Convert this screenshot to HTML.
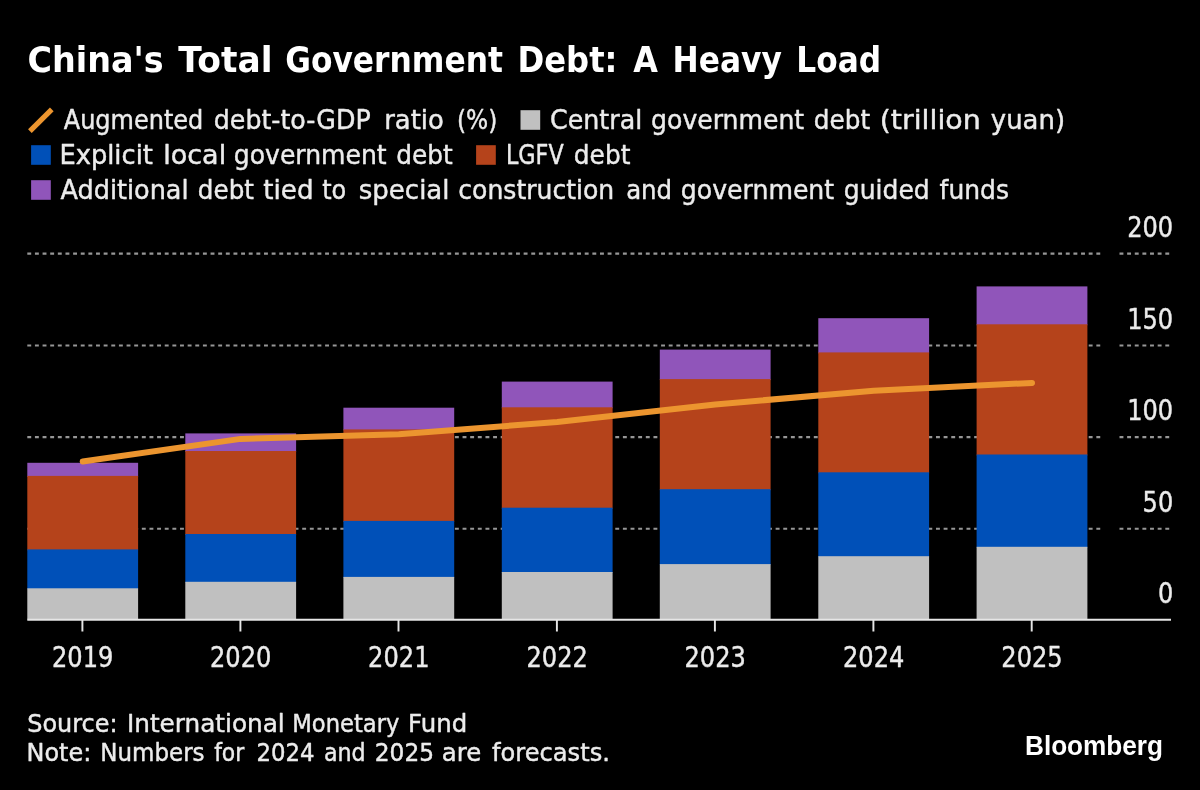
<!DOCTYPE html>
<html lang="en"><head><meta charset="utf-8"><title>China's Total Government Debt: A Heavy Load</title>
<style>
html,body{margin:0;padding:0;background:#000000;}
body{width:1200px;height:790px;overflow:hidden;}
svg{display:block}
text{font-family:'DejaVu Sans','Liberation Sans',sans-serif;fill:#ececec;stroke:#ececec;stroke-width:0.45px;stroke-linejoin:round}
.t{font-weight:bold;font-size:35px;fill:#ffffff;stroke:none}
.l{font-size:27.1px}
.a{font-size:28.2px}
.f{font-size:25px}
.logo{font-family:'Liberation Sans',sans-serif;font-weight:bold;font-size:27px;fill:#ffffff;stroke:none}
</style></head><body>
<svg width="1200" height="790" viewBox="0 0 1200 790">
<rect width="1200" height="790" fill="#000000"/>

<text y="71.8" class="t"><tspan x="27.43" textLength="136.16" lengthAdjust="spacingAndGlyphs">China's</tspan> <tspan x="178.30" textLength="94.16" lengthAdjust="spacingAndGlyphs">Total</tspan> <tspan x="285.23" textLength="217.66" lengthAdjust="spacingAndGlyphs">Government</tspan> <tspan x="517.48" textLength="100.04" lengthAdjust="spacingAndGlyphs">Debt:</tspan> <tspan x="633.30" textLength="24.67" lengthAdjust="spacingAndGlyphs">A</tspan> <tspan x="672.56" textLength="109.30" lengthAdjust="spacingAndGlyphs">Heavy</tspan> <tspan x="796.31" textLength="84.79" lengthAdjust="spacingAndGlyphs">Load</tspan></text>
<line x1="29.9" y1="131.1" x2="51.8" y2="109.3" stroke="#ec952f" stroke-width="5.2"/>
<text y="128.8" class="l"><tspan x="63.75" textLength="139.61" lengthAdjust="spacingAndGlyphs">Augmented</tspan> <tspan x="213.82" textLength="156.81" lengthAdjust="spacingAndGlyphs">debt-to-GDP</tspan> <tspan x="384.23" textLength="59.54" lengthAdjust="spacingAndGlyphs">ratio</tspan> <tspan x="456.93" textLength="40.39" lengthAdjust="spacingAndGlyphs">(%)</tspan></text>
<rect x="520.5" y="110.2" width="19.7" height="19.6" fill="#c0c0c0"/>
<text y="128.8" class="l"><tspan x="550.06" textLength="92.23" lengthAdjust="spacingAndGlyphs">Central</tspan> <tspan x="651.12" textLength="153.06" lengthAdjust="spacingAndGlyphs">government</tspan> <tspan x="813.84" textLength="56.28" lengthAdjust="spacingAndGlyphs">debt</tspan> <tspan x="879.78" textLength="101.00" lengthAdjust="spacingAndGlyphs">(trillion</tspan> <tspan x="990.85" textLength="74.17" lengthAdjust="spacingAndGlyphs">yuan)</tspan></text>
<rect x="31.1" y="145.2" width="19.7" height="19.6" fill="#0050b8"/>
<text y="163.8" class="l"><tspan x="59.39" textLength="93.55" lengthAdjust="spacingAndGlyphs">Explicit</tspan> <tspan x="163.22" textLength="62.98" lengthAdjust="spacingAndGlyphs">local</tspan> <tspan x="233.82" textLength="152.85" lengthAdjust="spacingAndGlyphs">government</tspan> <tspan x="396.34" textLength="56.38" lengthAdjust="spacingAndGlyphs">debt</tspan></text>
<rect x="476.1" y="145.2" width="19.7" height="19.6" fill="#b5431b"/>
<text y="163.8" class="l"><tspan x="505.91" textLength="57.76" lengthAdjust="spacingAndGlyphs">LGFV</tspan> <tspan x="573.83" textLength="56.59" lengthAdjust="spacingAndGlyphs">debt</tspan></text>
<rect x="31.1" y="180.2" width="19.7" height="19.6" fill="#9055ba"/>
<text y="198.8" class="l"><tspan x="60.50" textLength="128.05" lengthAdjust="spacingAndGlyphs">Additional</tspan> <tspan x="197.85" textLength="56.08" lengthAdjust="spacingAndGlyphs">debt</tspan> <tspan x="263.34" textLength="50.21" lengthAdjust="spacingAndGlyphs">tied</tspan> <tspan x="322.13" textLength="24.06" lengthAdjust="spacingAndGlyphs">to</tspan> <tspan x="358.78" textLength="90.77" lengthAdjust="spacingAndGlyphs">special</tspan> <tspan x="458.32" textLength="155.96" lengthAdjust="spacingAndGlyphs">construction</tspan> <tspan x="626.15" textLength="45.99" lengthAdjust="spacingAndGlyphs">and</tspan> <tspan x="680.82" textLength="153.36" lengthAdjust="spacingAndGlyphs">government</tspan> <tspan x="843.83" textLength="85.87" lengthAdjust="spacingAndGlyphs">guided</tspan> <tspan x="939.61" textLength="69.30" lengthAdjust="spacingAndGlyphs">funds</tspan></text>
<g stroke="#969696" stroke-width="2.1" stroke-dasharray="3.9 3.736" fill="none">
<path d="M27.3 253.6H1101.5"/><path d="M1119.5 253.6H1171"/>
<path d="M27.3 345.5H1101.5"/><path d="M1119.5 345.5H1171"/>
<path d="M27.3 437.1H1101.5"/><path d="M1119.5 437.1H1171"/>
<path d="M27.3 528.8H1101.5"/><path d="M1119.5 528.8H1171"/>
</g>
<rect x="27.3" y="462.8" width="110.8" height="14.1" fill="#9055ba"/>
<rect x="27.3" y="475.9" width="110.8" height="74.5" fill="#b5431b"/>
<rect x="27.3" y="549.4" width="110.8" height="39.9" fill="#0050b8"/>
<rect x="27.3" y="588.3" width="110.8" height="31.2" fill="#c0c0c0"/>
<rect x="185.3" y="433.4" width="110.8" height="18.6" fill="#9055ba"/>
<rect x="185.3" y="451.0" width="110.8" height="84.0" fill="#b5431b"/>
<rect x="185.3" y="534.0" width="110.8" height="48.8" fill="#0050b8"/>
<rect x="185.3" y="581.8" width="110.8" height="37.7" fill="#c0c0c0"/>
<rect x="343.4" y="407.7" width="110.8" height="22.7" fill="#9055ba"/>
<rect x="343.4" y="429.4" width="110.8" height="92.5" fill="#b5431b"/>
<rect x="343.4" y="520.9" width="110.8" height="57.0" fill="#0050b8"/>
<rect x="343.4" y="576.9" width="110.8" height="42.6" fill="#c0c0c0"/>
<rect x="501.8" y="381.6" width="110.8" height="26.7" fill="#9055ba"/>
<rect x="501.8" y="407.3" width="110.8" height="101.4" fill="#b5431b"/>
<rect x="501.8" y="507.7" width="110.8" height="65.3" fill="#0050b8"/>
<rect x="501.8" y="572.0" width="110.8" height="47.5" fill="#c0c0c0"/>
<rect x="659.8" y="349.6" width="110.8" height="30.5" fill="#9055ba"/>
<rect x="659.8" y="379.1" width="110.8" height="111.1" fill="#b5431b"/>
<rect x="659.8" y="489.2" width="110.8" height="75.9" fill="#0050b8"/>
<rect x="659.8" y="564.1" width="110.8" height="55.4" fill="#c0c0c0"/>
<rect x="818.3" y="318.2" width="110.8" height="35.2" fill="#9055ba"/>
<rect x="818.3" y="352.4" width="110.8" height="120.9" fill="#b5431b"/>
<rect x="818.3" y="472.3" width="110.8" height="84.9" fill="#0050b8"/>
<rect x="818.3" y="556.2" width="110.8" height="63.3" fill="#c0c0c0"/>
<rect x="976.6" y="286.4" width="110.8" height="38.9" fill="#9055ba"/>
<rect x="976.6" y="324.3" width="110.8" height="131.2" fill="#b5431b"/>
<rect x="976.6" y="454.5" width="110.8" height="93.3" fill="#0050b8"/>
<rect x="976.6" y="546.8" width="110.8" height="72.7" fill="#c0c0c0"/>
<path d="M27.3 619.8H1171" stroke="#e6e6e6" stroke-width="1.94" fill="none"/>
<path d="M82.4 620V631.5" stroke="#e6e6e6" stroke-width="1.94" fill="none"/>
<path d="M240.4 620V631.5" stroke="#e6e6e6" stroke-width="1.94" fill="none"/>
<path d="M398.5 620V631.5" stroke="#e6e6e6" stroke-width="1.94" fill="none"/>
<path d="M556.9 620V631.5" stroke="#e6e6e6" stroke-width="1.94" fill="none"/>
<path d="M714.9 620V631.5" stroke="#e6e6e6" stroke-width="1.94" fill="none"/>
<path d="M873.4 620V631.5" stroke="#e6e6e6" stroke-width="1.94" fill="none"/>
<path d="M1031.7 620V631.5" stroke="#e6e6e6" stroke-width="1.94" fill="none"/>
<polyline points="82.7,461.5 240.7,438.9 398.8,434.3 557.2,422.0 715.2,404.4 873.7,390.8 1032.0,382.9" fill="none" stroke="#ec952f" stroke-width="6" stroke-linecap="round" stroke-linejoin="round"/>
<text x="82.7" y="667.0" class="a" text-anchor="middle" textLength="61.4" lengthAdjust="spacingAndGlyphs">2019</text>
<text x="240.7" y="667.0" class="a" text-anchor="middle" textLength="61.4" lengthAdjust="spacingAndGlyphs">2020</text>
<text x="398.8" y="667.0" class="a" text-anchor="middle" textLength="61.4" lengthAdjust="spacingAndGlyphs">2021</text>
<text x="557.2" y="667.0" class="a" text-anchor="middle" textLength="61.4" lengthAdjust="spacingAndGlyphs">2022</text>
<text x="715.2" y="667.0" class="a" text-anchor="middle" textLength="61.4" lengthAdjust="spacingAndGlyphs">2023</text>
<text x="873.7" y="667.0" class="a" text-anchor="middle" textLength="61.4" lengthAdjust="spacingAndGlyphs">2024</text>
<text x="1032.0" y="667.0" class="a" text-anchor="middle" textLength="61.4" lengthAdjust="spacingAndGlyphs">2025</text>
<text x="1173.2" y="236.79999999999998" class="a" text-anchor="end" textLength="46" lengthAdjust="spacingAndGlyphs">200</text>
<text x="1173.2" y="328.7" class="a" text-anchor="end" textLength="46" lengthAdjust="spacingAndGlyphs">150</text>
<text x="1173.2" y="420.3" class="a" text-anchor="end" textLength="46" lengthAdjust="spacingAndGlyphs">100</text>
<text x="1173.2" y="511.99999999999994" class="a" text-anchor="end" textLength="30.6" lengthAdjust="spacingAndGlyphs">50</text>
<text x="1173.2" y="603.4000000000001" class="a" text-anchor="end" textLength="15.3" lengthAdjust="spacingAndGlyphs">0</text>
<text y="731.7" class="f"><tspan x="27.26" textLength="90.20" lengthAdjust="spacingAndGlyphs">Source:</tspan> <tspan x="126.93" textLength="157.80" lengthAdjust="spacingAndGlyphs">International</tspan> <tspan x="292.28" textLength="107.14" lengthAdjust="spacingAndGlyphs">Monetary</tspan> <tspan x="408.01" textLength="59.13" lengthAdjust="spacingAndGlyphs">Fund</tspan></text>
<text y="760.5" class="f"><tspan x="26.51" textLength="64.70" lengthAdjust="spacingAndGlyphs">Note:</tspan> <tspan x="100.35" textLength="104.24" lengthAdjust="spacingAndGlyphs">Numbers</tspan> <tspan x="214.16" textLength="30.11" lengthAdjust="spacingAndGlyphs">for</tspan> <tspan x="256.58" textLength="57.99" lengthAdjust="spacingAndGlyphs">2024</tspan> <tspan x="323.96" textLength="41.74" lengthAdjust="spacingAndGlyphs">and</tspan> <tspan x="374.80" textLength="59.22" lengthAdjust="spacingAndGlyphs">2025</tspan> <tspan x="441.86" textLength="39.43" lengthAdjust="spacingAndGlyphs">are</tspan> <tspan x="492.12" textLength="117.77" lengthAdjust="spacingAndGlyphs">forecasts.</tspan></text>
<text x="1025" y="754.5" class="logo" textLength="138" lengthAdjust="spacingAndGlyphs">Bloomberg</text>
</svg></body></html>
